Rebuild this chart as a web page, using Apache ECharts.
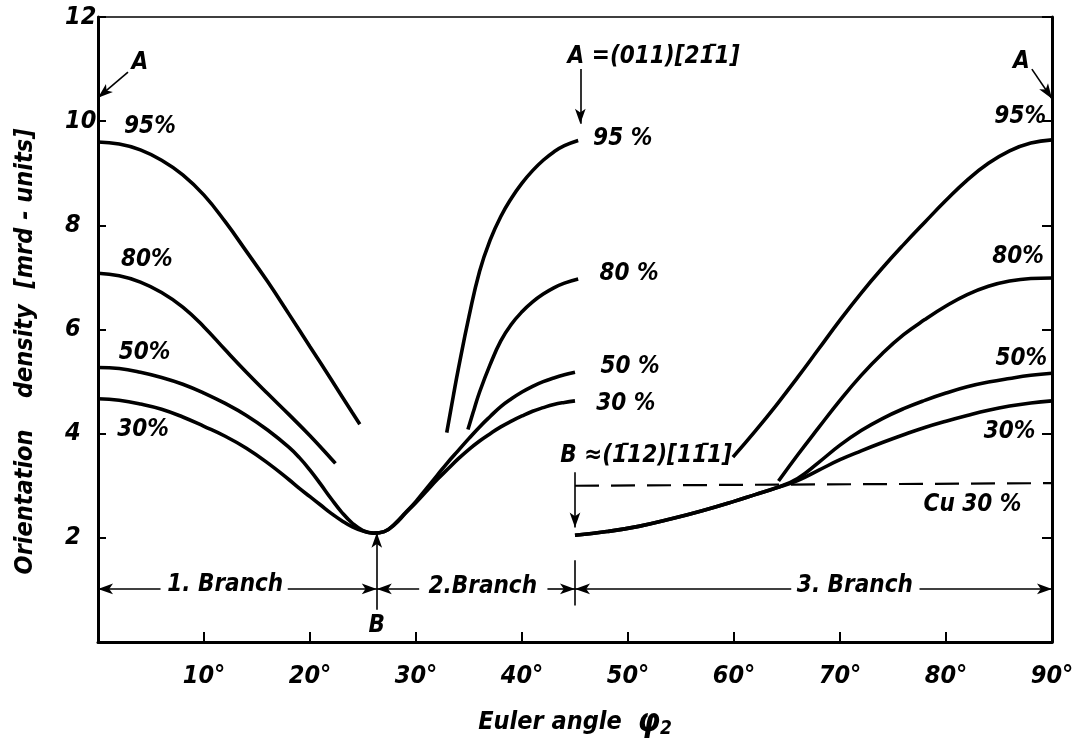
<!DOCTYPE html>
<html>
<head>
<meta charset="utf-8">
<script src="https://cdn.jsdelivr.net/npm/echarts/dist/echarts.min.js"></script>
<style>
html,body{margin:0;padding:0;background:#fff;}
#chart{width:1091px;height:744px;}
</style>
</head>
<body>
<div id="chart"></div>
<script>
// ---- data (Euler angle phi2 [deg], orientation density [mrd]) ----
var xTicks = [10, 20, 30, 40, 50, 60, 70, 80, 90];
var yTicks = [2, 4, 6, 8, 10, 12];

var p95_b1 = [[0,9.6],[2,9.56],[4,9.45],[6,9.25],[8,8.97],[10,8.58],[12,8.07],[14,7.5],[16,6.92],[18,6.3],[20,5.67],[22,5.04],[24,4.4],[24.7,4.18]];
var p80_b1 = [[0,7.08],[2,7.03],[4,6.91],[6,6.71],[8,6.43],[10,6.05],[12,5.61],[14,5.18],[16,4.77],[18,4.37],[20,3.96],[22,3.52],[22.4,3.43]];
var p50_b12 = [[0,5.27],[2,5.25],[4,5.18],[6,5.08],[8,4.95],[10,4.78],[12,4.58],[14,4.35],[16,4.07],[18,3.74],[19,3.54],[20,3.3],[21,3.03],[22,2.75],[23,2.49],[24,2.28],[25,2.14],[26,2.09],[27,2.12],[28,2.27],[29,2.48],[30,2.7],[31,2.95],[32,3.2],[33,3.45],[34,3.68],[35,3.91],[36,4.13],[37,4.33],[38,4.52],[39,4.67],[40,4.8],[41,4.91],[42,5.0],[43,5.07],[44,5.13],[45,5.18]];
var p30_b12 = [[0,4.67],[2,4.64],[4,4.57],[6,4.47],[8,4.32],[10,4.14],[12,3.95],[14,3.72],[16,3.44],[18,3.12],[19,2.95],[20,2.79],[21,2.63],[22,2.47],[23,2.33],[24,2.21],[25,2.13],[26,2.09],[27,2.12],[28,2.26],[29,2.47],[30,2.68],[31,2.9],[32,3.12],[33,3.32],[34,3.52],[35,3.7],[36,3.86],[37,4.0],[38,4.13],[39,4.24],[40,4.34],[41,4.43],[42,4.5],[43,4.56],[44,4.6],[45,4.63]];
var p95_b2 = [[32.9,4.02],[33.5,4.7],[34,5.25],[35,6.25],[36,7.12],[37,7.72],[38,8.17],[39,8.52],[40,8.81],[41,9.05],[42,9.25],[43,9.41],[44,9.53],[45.3,9.63]];
var p80_b2 = [[34.9,4.08],[35.5,4.48],[36,4.8],[37,5.33],[38,5.78],[39,6.1],[40,6.34],[41,6.53],[42,6.68],[43,6.8],[44,6.89],[45.3,6.97]];
var p95_b3 = [[59.9,3.55],[62,4.05],[64,4.55],[66,5.08],[68,5.63],[70,6.18],[72,6.7],[74,7.18],[76,7.63],[78,8.06],[80,8.48],[82,8.87],[84,9.19],[86,9.43],[88,9.58],[90,9.64]];
var p80_b3 = [[64.2,3.09],[66,3.59],[68,4.12],[70,4.64],[72,5.12],[74,5.54],[76,5.9],[78,6.19],[80,6.45],[82,6.67],[84,6.83],[86,6.93],[88,6.98],[90,6.99]];
var p50_b3 = [[45,2.05],[48,2.12],[51,2.22],[54,2.36],[57,2.52],[60,2.7],[62,2.83],[64,2.96],[66,3.14],[68,3.45],[70,3.78],[72,4.06],[74,4.29],[76,4.48],[78,4.64],[80,4.78],[82,4.9],[84,4.99],[86,5.06],[88,5.12],[90,5.16]];
var p30_b3 = [[45,2.05],[48,2.12],[51,2.22],[54,2.36],[57,2.52],[60,2.7],[62,2.83],[64,2.96],[66,3.1],[68,3.3],[70,3.5],[72,3.67],[74,3.83],[76,3.98],[78,4.12],[80,4.24],[82,4.35],[84,4.45],[86,4.53],[88,4.59],[90,4.63]];
var cu30 = [[45,3.0],[90,3.05]];

// ---- annotations (data coordinates) ----
var notes = [
  ['A', 3.96, 11.13, 'center'],
  ['95%', 4.9, 9.9, 'center'], ['80%', 4.6, 7.34, 'center'], ['50%', 4.4, 5.55, 'center'], ['30%', 4.25, 4.08, 'center'],
  ['A =(011)[21\u03041]', 44.3, 11.24, 'left'],
  ['95 %', 49.5, 9.67, 'center'], ['80 %', 50.1, 7.07, 'center'], ['50 %', 50.2, 5.29, 'center'], ['30 %', 49.8, 4.57, 'center'],
  ['B \u2248(1\u030412)[11\u03041]', 43.6, 3.58, 'left'],
  ['Cu 30 %', 82.5, 2.64, 'center'],
  ['A', 87.1, 11.15, 'center'],
  ['95%', 87.0, 10.08, 'center'], ['80%', 86.8, 7.39, 'center'], ['50%', 87.1, 5.44, 'center'], ['30%', 86.0, 4.04, 'center'],
  ['1. Branch', 12.0, 1.1, 'center'], ['2.Branch', 36.3, 1.06, 'center'], ['3. Branch', 71.4, 1.08, 'center'],
  ['B', 26.3, 0.32, 'center']
];
// arrows: [x1,y1,x2,y2,arrowAtEnd]
var arrows = [
  [2.83, 10.94, 0, 10.45, true],
  [88.1, 11.0, 90, 10.43, true],
  [45.5, 11.0, 45.5, 9.95, true],
  [45, 3.26, 45, 2.2, true],
  [26.3, 0.62, 26.3, 2.1, true],
  [45, 0.7, 45, 1.57, false],
  [5.9, 1.02, 0, 1.02, true],
  [17.9, 1.02, 26.3, 1.02, true],
  [30.3, 1.02, 26.3, 1.02, true],
  [42.4, 1.02, 45, 1.02, true],
  [65.4, 1.02, 45, 1.02, true],
  [77.5, 1.02, 90, 1.02, true]
];

var FONT = "'DejaVu Sans Condensed', 'DejaVu Sans', sans-serif";
var chart = echarts.init(document.getElementById('chart'), null, {renderer: 'canvas'});

function curve(name, data) {
  return {
    name: name, type: 'line', data: data, smooth: 0.45, symbol: 'none',
    silent: true, animation: false, z: 3,
    lineStyle: {color: '#000', width: 3.6, cap: 'butt'}
  };
}

var series = [
  curve('95% b1', p95_b1), curve('80% b1', p80_b1), curve('50% b1-2', p50_b12), curve('30% b1-2', p30_b12),
  curve('95% b2', p95_b2), curve('80% b2', p80_b2),
  curve('95% b3', p95_b3), curve('80% b3', p80_b3), curve('50% b3', p50_b3), curve('30% b3', p30_b3),
  {
    name: 'Cu 30%', type: 'line', data: cu30, symbol: 'none', silent: true, animation: false,
    lineStyle: {color: '#000', width: 2.2, type: [24, 12]}
  },
  {
    name: 'arrows', type: 'line', data: [], silent: true, animation: false,
    markLine: {
      silent: true, animation: false, symbol: ['none', 'none'], symbolSize: 11,
      label: {show: false},
      lineStyle: {color: '#000', width: 1.6, type: 'solid'},
      emphasis: {disabled: true},
      data: arrows.map(function (a) {
        return [
          {coord: [a[0], a[1]], symbol: 'none'},
          {coord: [a[2], a[3]], symbol: a[4] ? 'arrow' : 'none', symbolSize: [8, 15]}
        ];
      })
    }
  }
];

var option = {
  animation: false,
  backgroundColor: '#fff',
  grid: {left: 98, right: 39, top: 17, bottom: 94, containLabel: false},
  xAxis: [
    {
      type: 'value', min: 0, max: 90, interval: 10, position: 'bottom',
      name: '{a|Euler angle  }{b|\u03c6}{c|2}',
      nameLocation: 'middle', nameGap: 64,
      nameTextStyle: {
        rich: {
          a: {fontFamily: FONT, fontStyle: 'italic', fontWeight: 'bold', fontSize: 25, color: '#000'},
          b: {fontFamily: FONT, fontStyle: 'italic', fontWeight: 'bold', fontSize: 32, color: '#000'},
          c: {fontFamily: FONT, fontStyle: 'italic', fontWeight: 'bold', fontSize: 19, color: '#000', padding: [14, 0, 0, 0]}
        }
      },
      axisLine: {show: true, onZero: false, lineStyle: {color: '#000', width: 3}},
      axisTick: {show: true, inside: true, length: 10, lineStyle: {color: '#000', width: 2}},
      axisLabel: {
        margin: 22, color: '#000', fontFamily: FONT, fontStyle: 'italic', fontWeight: 'bold', fontSize: 25,
        formatter: function (v) { return xTicks.indexOf(v) >= 0 ? v + '\u00b0' : ''; }
      },
      splitLine: {show: false}
    },
    {
      type: 'value', min: 0, max: 90, interval: 10, position: 'top',
      axisLine: {show: true, onZero: false, lineStyle: {color: '#000', width: 1.5}},
      axisTick: {show: false}, axisLabel: {show: false}, splitLine: {show: false}
    }
  ],
  yAxis: [
    {
      type: 'value', min: 0, max: 12, interval: 2, position: 'left',
      name: 'Orientation    density  [mrd - units]',
      nameLocation: 'middle', nameGap: 60, nameRotate: 90,
      nameTextStyle: {fontFamily: FONT, fontStyle: 'italic', fontWeight: 'bold', fontSize: 25, color: '#000', padding: [0, 44, 0, 0]},
      axisLine: {show: true, onZero: false, lineStyle: {color: '#000', width: 3}},
      axisTick: {show: true, inside: true, length: 8, lineStyle: {color: '#000', width: 2}},
      axisLabel: {
        margin: 33, align: 'left', color: '#000', fontFamily: FONT, fontStyle: 'italic', fontWeight: 'bold', fontSize: 25,
        formatter: function (v) { return yTicks.indexOf(v) >= 0 ? String(v) : ''; }
      },
      splitLine: {show: false}
    },
    {
      type: 'value', min: 0, max: 12, interval: 2, position: 'right',
      axisLine: {show: true, onZero: false, lineStyle: {color: '#000', width: 3}},
      axisTick: {show: true, inside: true, length: 10, lineStyle: {color: '#000', width: 2}},
      axisLabel: {show: false}, splitLine: {show: false}
    }
  ],
  series: series
};
chart.setOption(option);

// annotation texts placed through the grid's own coordinate conversion
var graphics = notes.map(function (n) {
  var p = chart.convertToPixel({gridIndex: 0}, [n[1], n[2]]);
  return {
    type: 'text', x: p[0], y: p[1], silent: true, z: 10,
    style: {
      text: n[0], fill: '#000', align: n[3], verticalAlign: 'middle',
      textAlign: n[3], textVerticalAlign: 'middle',
      font: 'italic bold 24px ' + FONT
    }
  };
});
chart.setOption({graphic: graphics});
</script>
</body>
</html>
